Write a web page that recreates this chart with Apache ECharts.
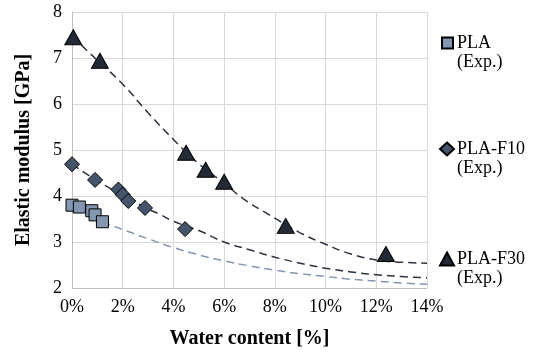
<!DOCTYPE html>
<html>
<head>
<meta charset="utf-8">
<script src="https://cdn.jsdelivr.net/npm/echarts@6/dist/echarts.min.js"></script>
<style>html,body{margin:0;padding:0;background:#fff}#c{width:538px;height:354px}</style>
</head>
<body>
<div id="c"></div>
<script>
// Experimental data: [water content %, elastic modulus GPa]
const plaExp = [[0.0, 3.80], [0.29, 3.76], [0.78, 3.68], [0.91, 3.59], [1.2, 3.44]];
const f10Exp = [[0.0, 4.69], [0.91, 4.35], [1.83, 4.14], [2.0, 4.03], [2.22, 3.89], [2.88, 3.74], [4.46, 3.28]];
const f30Exp = [[0.05, 7.45], [1.1, 6.94], [4.5, 4.94], [5.27, 4.57], [6.0, 4.31], [8.43, 3.35], [12.38, 2.74]];
// Fit curves
const plaFit = [[1.2, 3.44], [1.7, 3.33], [2, 3.27], [3, 3.07], [4, 2.88], [5, 2.72], [6, 2.59], [7, 2.48], [8, 2.39], [9, 2.31], [10, 2.25], [11, 2.19], [12, 2.15], [13, 2.11], [14, 2.08]];
const f10Fit = [[0, 4.69], [1, 4.33], [2, 4.02], [2.88, 3.75], [3.54, 3.58], [4, 3.45], [5, 3.25], [6, 3.00], [7, 2.83], [8, 2.67], [9, 2.54], [10, 2.43], [11, 2.35], [12, 2.29], [13, 2.25], [14, 2.22]];
const f30Fit = [[0, 7.47], [1, 6.95], [2, 6.43], [3, 5.81], [4, 5.23], [5, 4.70], [6, 4.28], [6.76, 3.94], [7.81, 3.58], [9, 3.20], [10, 2.95], [11, 2.74], [12, 2.61], [13, 2.56], [14, 2.54]];
const seriesNames = ['PLA', 'PLA-F10', 'PLA-F30'];
const xTitle = 'Water content [%]';
const yTitle = 'Elastic modulus [GPa]';

const FONT = 'Liberation Serif';
const chart = echarts.init(document.getElementById('c'), null, {renderer: 'canvas'});
const legendTops = [34, 140, 250];
const icons = ['rect', 'diamond', 'triangle'];
const iconSizes = [[11, 11], [14, 13], [14, 13]];
const legendLefts = [441, 439, 439];
const fills = ['#8497b0', '#44546a', '#222a35'];

function legendAt(i) {
  return {
    data: [{name: seriesNames[i], icon: icons[i]}],
    left: legendLefts[i], top: legendTops[i], orient: 'vertical',
    itemWidth: iconSizes[i][0], itemHeight: iconSizes[i][1], padding: 0,
    selectedMode: false,
    textStyle: {fontFamily: FONT, fontSize: 18, color: '#000', padding: [0, 0, 0, -2 - (iconSizes[i][0] - 11) + (legendLefts[i] === 441 ? 1 : 3)]}
  };
}

const fitLine = (data, color) => ({
  type: 'line', data: data, symbol: 'none', smooth: true, silent: true, z: 1,
  lineStyle: {color: color, width: 1.5, type: [8, 5]}
});

chart.setOption({
  animation: false,
  backgroundColor: '#fff',
  textStyle: {fontFamily: FONT},
  grid: {left: 72, top: 12, right: 111, bottom: 64},
  legend: [legendAt(0), legendAt(1), legendAt(2)],
  graphic: [0, 1, 2].map(i => ({
    type: 'text', left: 457, top: legendTops[i] + 19,
    style: {text: '(Exp.)', fontFamily: FONT, fontSize: 18, fill: '#000'}
  })),
  xAxis: {
    type: 'value', min: 0, max: 14, interval: 2,
    name: xTitle, nameLocation: 'middle', nameGap: 41,
    nameTextStyle: {fontFamily: FONT, fontSize: 20, fontWeight: 'bold', color: '#000'},
    axisLine: {show: true, lineStyle: {color: '#bfbfbf'}},
    axisTick: {show: false},
    axisLabel: {formatter: '{value}%', fontFamily: FONT, fontSize: 18, color: '#000', margin: 10},
    splitLine: {show: true, lineStyle: {color: '#d9d9d9', width: 1}}
  },
  yAxis: {
    type: 'value', min: 2, max: 8, interval: 1,
    name: yTitle, nameLocation: 'middle', nameGap: 38, nameRotate: 90,
    nameTextStyle: {fontFamily: FONT, fontSize: 20, fontWeight: 'bold', color: '#000'},
    axisLine: {show: true, lineStyle: {color: '#bfbfbf'}},
    axisTick: {show: false},
    axisLabel: {fontFamily: FONT, fontSize: 18, color: '#000', margin: 10},
    splitLine: {show: true, lineStyle: {color: '#d9d9d9', width: 1}}
  },
  series: [
    fitLine(plaFit, '#8497b0'),
    fitLine(f10Fit, '#2b3340'),
    fitLine(f30Fit, '#2b3340'),
    {name: seriesNames[0], type: 'scatter', data: plaExp, symbol: 'rect', symbolSize: 12, z: 3,
     itemStyle: {color: fills[0], borderColor: '#000', borderWidth: 1, opacity: 1}},
    {name: seriesNames[1], type: 'scatter', data: f10Exp, symbol: 'diamond', symbolSize: 15, z: 3,
     itemStyle: {color: fills[1], borderColor: '#000', borderWidth: 1, opacity: 1}},
    {name: seriesNames[2], type: 'scatter', data: f30Exp, symbol: 'triangle', symbolSize: [17, 15], z: 3,
     itemStyle: {color: fills[2], borderColor: '#000', borderWidth: 1, opacity: 1}}
  ]
});
</script>
</body>
</html>
